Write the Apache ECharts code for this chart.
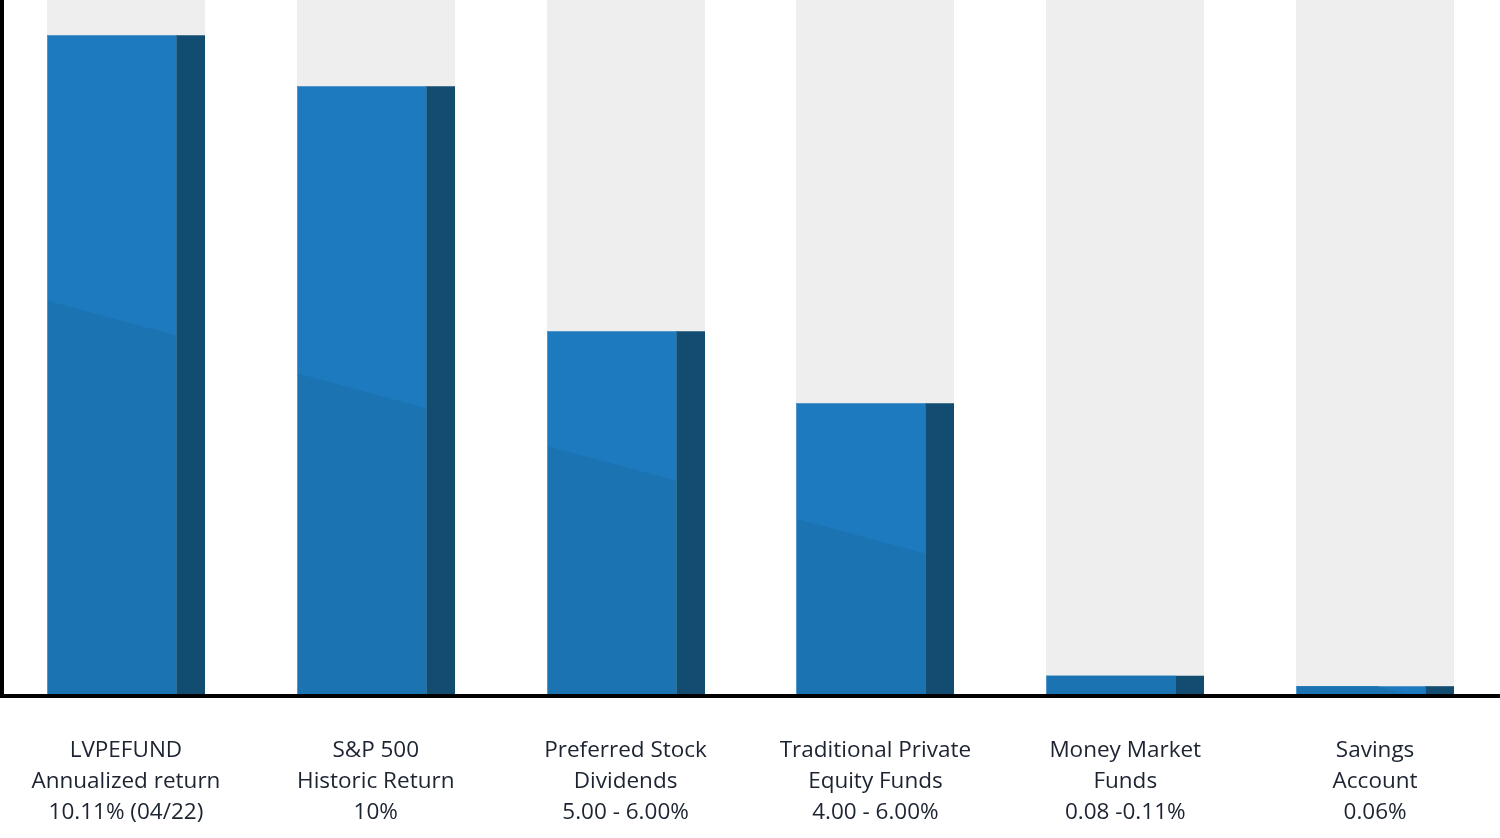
<!DOCTYPE html>
<html>
<head>
<meta charset="utf-8">
<script src="https://cdn.jsdelivr.net/npm/echarts@6/dist/echarts.min.js"></script>
<style>
html,body{margin:0;padding:0;background:#fff;}
#chart{width:1500px;height:838px;}
</style>
</head>
<body>
<div id="chart"></div>
<script>
// Categories (axis labels)
var categories = [
  'LVPEFUND\nAnnualized return\n10.11% (04/22)',
  'S&P 500\nHistoric Return\n10%',
  'Preferred Stock\nDividends\n5.00 - 6.00%',
  'Traditional Private\nEquity Funds\n4.00 - 6.00%',
  'Money Market\nFunds\n0.08 -0.11%',
  'Savings\nAccount\n0.06%'
];
// Bar heights (axis max = full grey column height)
var values = [10.11, 9.33, 5.58, 4.48, 0.31, 0.15];
var axisMax = 10.65;

var chart = echarts.init(document.getElementById('chart'));

function clipBelowLine(rect, yAtX) {
  var pts = [[rect.x0, rect.y0], [rect.x1, rect.y0], [rect.x1, rect.y1], [rect.x0, rect.y1]];
  var out = [];
  function inside(p) { return p[1] >= yAtX(p[0]); }
  function inter(a, b) {
    var fa = a[1] - yAtX(a[0]), fb = b[1] - yAtX(b[0]);
    var t = fa / (fa - fb);
    return [a[0] + (b[0] - a[0]) * t, a[1] + (b[1] - a[1]) * t];
  }
  for (var i = 0; i < pts.length; i++) {
    var cur = pts[i], prev = pts[(i + pts.length - 1) % pts.length];
    var ci = inside(cur), pi = inside(prev);
    if (ci) {
      if (!pi) out.push(inter(prev, cur));
      out.push(cur);
    } else if (pi) {
      out.push(inter(prev, cur));
    }
  }
  return out;
}

function renderItem(params, api) {
  var idx = api.value(0);
  var val = api.value(1);
  var top = api.coord([idx, val]);
  var base = api.coord([idx, 0]);
  var full = api.coord([idx, axisMax]);
  var band = api.size([1, 0])[0];
  var cx = top[0];
  var greyW = band * 0.633;
  var frontW = band * 0.518;
  var x0 = Math.round(cx - greyW / 2);
  var xf = Math.round(x0 + frontW);
  var x1 = Math.round(cx + greyW / 2);
  var yTop = top[1], yBase = base[1];
  var plotH = yBase - full[1];
  // decorative diagonal shade
  var shadeLeft = yBase - plotH * (0.568 - 0.1045 * idx);
  var slope = 35 / 130;
  var shadePts = clipBelowLine({x0: x0, y0: yTop, x1: xf, y1: yBase}, function (x) {
    return shadeLeft + (x - x0) * slope;
  });
  var children = [
    {type: 'rect', shape: {x: x0, y: full[1], width: x1 - x0, height: yBase - full[1]}, style: {fill: '#eeeeee'}},
    {type: 'rect', shape: {x: x0, y: yTop, width: xf - x0, height: yBase - yTop}, style: {fill: '#1d7abe'}},
    {type: 'rect', shape: {x: xf, y: yTop, width: x1 - xf, height: yBase - yTop}, style: {fill: '#124d71'}},
    {type: 'rect', shape: {x: x0, y: yTop, width: 1, height: yBase - yTop}, style: {fill: '#4f97cc'}},
    {type: 'rect', shape: {x: xf, y: yTop, width: 1, height: yBase - yTop}, style: {fill: '#2f6f98'}}
  ];
  if (shadePts.length >= 3) {
    children.splice(2, 0, {type: 'polygon', shape: {points: shadePts}, style: {fill: '#1b73b1'}});
  }
  return {type: 'group', children: children};
}

chart.setOption({
  animation: false,
  grid: {left: 1, width: 1505, top: 0, bottom: 142, containLabel: false},
  xAxis: {
    type: 'category',
    data: categories,
    z: 10,
    axisLine: {show: true, lineStyle: {color: '#000', width: 4}},
    axisTick: {show: false},
    axisLabel: {
      interval: 0,
      margin: 39,
      color: '#1c2331',
      fontFamily: 'Open Sans',
      fontSize: 22.5,
      lineHeight: 31,
      align: 'center'
    },
    splitLine: {show: false}
  },
  yAxis: {
    type: 'value',
    min: 0,
    max: axisMax,
    z: 10,
    offset: -1,
    axisLine: {show: true, lineStyle: {color: '#000', width: 4}},
    axisTick: {show: false},
    axisLabel: {show: false},
    splitLine: {show: false}
  },
  series: [{
    type: 'custom',
    renderItem: renderItem,
    data: values.map(function (v, i) { return [i, v]; }),
    encode: {x: 0, y: 1}
  }]
});
</script>
</body>
</html>
